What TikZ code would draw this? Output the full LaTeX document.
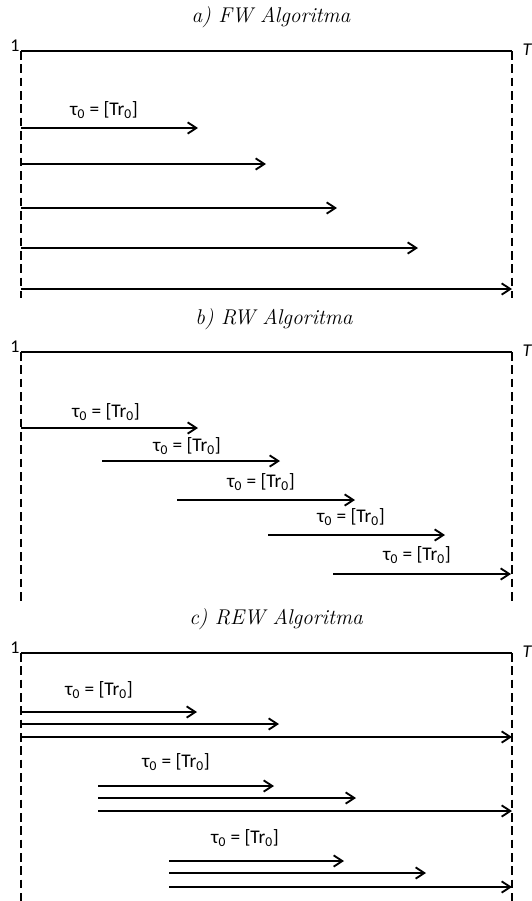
\documentclass[tikz,border=0pt]{standalone}
\usepackage{fontspec}
\newfontfamily\lblfont{Carlito}
\usetikzlibrary{arrows.meta}
\begin{document}
\begin{tikzpicture}[x=0.75pt,y=-0.75pt,
  frameline/.style={line width=1.4pt},
  guide/.style={line width=0.9pt, dash pattern=on 6.5pt off 3.5pt},
  arr/.style={line width=1.4pt, -{Straight Barb[length=6.5pt,width=8.5pt,line width=1.4pt]}},
  lbl/.style={font=\lblfont\fontsize{14.5}{16}\selectfont, inner sep=0pt},
  ttl/.style={font=\fontsize{16}{19}\selectfont\itshape, inner sep=0pt},
  endlbl/.style={font=\lblfont\fontsize{13.5}{15}\selectfont, inner sep=0pt},
  endlblT/.style={font=\lblfont\fontsize{13.5}{15}\selectfont\itshape, inner sep=0pt}]
\useasboundingbox (0,0) rectangle (532,901);
\newcommand{\tauLbl}{τ\textsubscript{0} = [Tr\textsubscript{0}]}

% ---------- panel a ----------
\node[ttl] (ta) at (271,17) {a) FW Algoritma};
\coordinate (aTL) at (21,51);  \coordinate (aTR) at (512,51);
\coordinate (aBL) at (21,298); \coordinate (aBR) at (512,298);
\draw[frameline] (aTL) -- (aTR);
\draw[guide] (aTL) -- (aBL);
\draw[guide] (aTR) -- (aBR);
\node[endlbl] (a1) at (15,46) {1};
\node[endlblT] (aT) at (527,50) {T};
\node[lbl] (al1) at (104,110) {\tauLbl};
\foreach \i/\y/\e in {1/128/198, 2/164/266, 3/208/337, 4/248/418, 5/289/512}{
  \coordinate (as\i) at (21,\y); \coordinate (ae\i) at (\e,\y);
  \draw[arr] (as\i) -- (ae\i);
}

% ---------- panel b ----------
\node[ttl] (tb) at (274,319) {b) RW Algoritma};
\coordinate (bTL) at (21,352);  \coordinate (bTR) at (512,352);
\coordinate (bBL) at (21,603);  \coordinate (bBR) at (512,603);
\draw[frameline] (bTL) -- (bTR);
\draw[guide] (bTL) -- (bBL);
\draw[guide] (bTR) -- (bBR);
\node[endlbl] (b1) at (15,347) {1};
\node[endlblT] (bT) at (527,351) {T};
\foreach \i/\y/\s/\e/\lx/\ly in {1/428/21/198/106/412, 2/461/102/280/187/446, 3/500/177/355/261/482, 4/535/268/445/351/517, 5/574/333/511/417/555}{
  \coordinate (bs\i) at (\s,\y); \coordinate (be\i) at (\e,\y);
  \draw[arr] (bs\i) -- (be\i);
  \node[lbl] (bl\i) at (\lx,\ly) {\tauLbl};
}

% ---------- panel c ----------
\node[ttl] (tc) at (276,619) {c) REW Algoritma};
\coordinate (cTL) at (21,653);  \coordinate (cTR) at (512,653);
\coordinate (cBL) at (21,901);  \coordinate (cBR) at (512,901);
\draw[frameline] (cTL) -- (cTR);
\draw[guide] (cTL) -- (cBL);
\draw[guide] (cTR) -- (cBR);
\node[endlbl] (c1) at (15,648) {1};
\node[endlblT] (cT) at (527,652) {T};
\foreach \g/\s/\ya/\ea/\yb/\eb/\yc/\lx/\ly in {1/21/712/197/724/279/737/99/690, 2/98/786/274/798/356/811/176/762, 3/169/861/344/873/426/887/245/838}{
  \coordinate (cs\g a) at (\s,\ya); \coordinate (ce\g a) at (\ea,\ya);
  \coordinate (cs\g b) at (\s,\yb); \coordinate (ce\g b) at (\eb,\yb);
  \coordinate (cs\g c) at (\s,\yc); \coordinate (ce\g c) at (512,\yc);
  \draw[arr] (cs\g a) -- (ce\g a);
  \draw[arr] (cs\g b) -- (ce\g b);
  \draw[arr] (cs\g c) -- (ce\g c);
  \node[lbl] (cl\g) at (\lx,\ly) {\tauLbl};
}
\end{tikzpicture}
\end{document}
